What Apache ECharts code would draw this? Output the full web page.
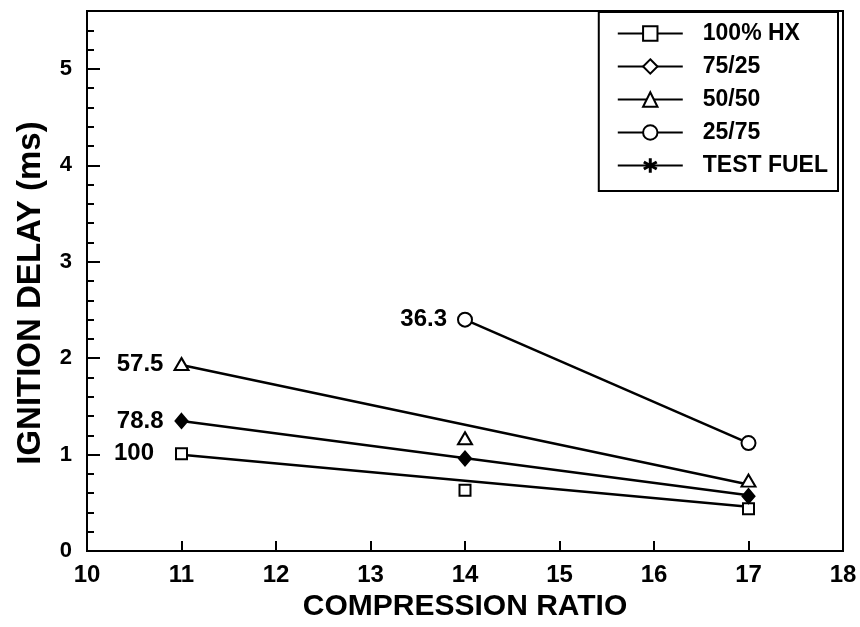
<!DOCTYPE html>
<html>
<head>
<meta charset="utf-8">
<script src="https://cdn.jsdelivr.net/npm/echarts@6/dist/echarts.min.js"></script>
<style>html,body{margin:0;padding:0;background:#fff}#c{width:860px;height:627px}</style>
</head>
<body>
<div id="c"></div>
<script>
// ---- data ----
const seriesNames = ['100% HX', '75/25', '50/50', '25/75', 'TEST FUEL'];
const xTicks = [10, 11, 12, 13, 14, 15, 16, 17, 18];
const yTicks = [0, 1, 2, 3, 4, 5];
const yMax = 5.6;

// measured points [compression ratio, ignition delay ms]
const hxPoints   = [[11, 1.01], [14, 0.63], [17, 0.44]];
const p7525      = [[11, 1.35], [14, 0.96], [17, 0.57]];
const p5050      = [[11, 1.94], [14, 1.17], [17, 0.73]];
const p2575      = [[14, 2.40], [17, 1.12]];
const testFuel   = [];

// fitted straight lines (end points)
const hxFit   = [[11, 1.00], [17, 0.46]];
const fit7525 = [[11, 1.35], [17, 0.58]];
const fit5050 = [[11, 1.93], [17, 0.69]];
const fit2575 = [[14, 2.40], [17, 1.12]];

// annotations (value printed next to first point of each series)
const annoText = ['100', '78.8', '57.5', '36.3'];

const FONT = 'Liberation Sans, Arial, sans-serif';
const asterisk = 'path://M-1,5L1,5L1,-5L-1,-5ZM3.83,3.366L4.83,1.634L-3.83,-3.366L-4.83,-1.634ZM-4.83,1.634L-3.83,3.366L4.83,-1.634L3.83,-3.366Z';

function withLabel(points, text, dist) {
  return points.map((p, i) => i === 0 ? {
    value: p,
    label: { show: true, formatter: text, position: 'left', distance: dist,
             color: '#000', fontFamily: FONT, fontWeight: 'bold', fontSize: 24 }
  } : { value: p });
}

function markerSeries(name, data, symbol, size, fill, bw) {
  return {
    name: name, type: 'line', data: data, symbol: symbol, symbolSize: size,
    showSymbol: true,
    lineStyle: { opacity: 0, width: 0 },
    itemStyle: { color: fill, borderColor: '#000', borderWidth: bw },
    emphasis: { disabled: true }, z: 5, animation: false
  };
}
function fitSeries(data) {
  return {
    type: 'line', data: data, symbol: 'none',
    lineStyle: { color: '#000', width: 2.5 },
    emphasis: { disabled: true }, z: 3, animation: false, silent: true
  };
}

const option = {
  animation: false,
  backgroundColor: '#fff',
  grid: { left: 87, right: 17, top: 11, bottom: 74, show: true,
          borderColor: '#000', borderWidth: 2, backgroundColor: 'transparent' },
  xAxis: {
    type: 'value', min: xTicks[0], max: xTicks[xTicks.length - 1], interval: 1,
    name: 'COMPRESSION RATIO', nameLocation: 'middle', nameGap: 40,
    nameTextStyle: { color: '#000', fontFamily: FONT, fontWeight: 'bold', fontSize: 30 },
    axisLine: { lineStyle: { color: '#000', width: 2 } },
    axisTick: { inside: true, length: 10, lineStyle: { color: '#000', width: 2 } },
    axisLabel: { color: '#000', fontFamily: FONT, fontWeight: 'bold', fontSize: 24, margin: 12 },
    splitLine: { show: false }
  },
  yAxis: [{
    type: 'value', min: yTicks[0], max: yMax, interval: 1,
    name: 'IGNITION DELAY (ms)', nameLocation: 'middle', nameGap: 40,
    nameTextStyle: { color: '#000', fontFamily: FONT, fontWeight: 'bold', fontSize: 33,
                     padding: [0, 24, 0, 0] },
    axisLine: { lineStyle: { color: '#000', width: 2 } },
    axisTick: { inside: true, length: 13, lineStyle: { color: '#000', width: 2 } },
    axisLabel: { color: '#000', fontFamily: FONT, fontWeight: 'bold', fontSize: 22, margin: 15,
                 showMaxLabel: false },
    splitLine: { show: false }
  }, {
    // minor ticks every 0.2
    type: 'value', min: yTicks[0], max: yMax, interval: 0.2, position: 'left',
    axisLine: { show: false },
    axisTick: { inside: true, length: 7, lineStyle: { color: '#000', width: 2 } },
    axisLabel: { show: false }, splitLine: { show: false }
  }],
  legend: {
    orient: 'vertical', right: 22, top: 12,
    padding: [10, 10, 14, 18],
    borderColor: '#000', borderWidth: 2, backgroundColor: '#fff',
    itemWidth: 65, itemHeight: 18, itemGap: 10,
    selectedMode: false,
    textStyle: { color: '#000', fontFamily: FONT, fontWeight: 'bold', fontSize: 23,
                 padding: [0, 0, 0, 15], lineHeight: 23 },
    lineStyle: { color: '#000', width: 2, opacity: 1 },
    data: seriesNames.map(n => ({ name: n, itemStyle: n === 'TEST FUEL'
      ? { color: '#000', borderWidth: 0 }
      : { color: '#fff', borderColor: '#000', borderWidth: 2 } }))
  },
  series: [
    fitSeries(hxFit), fitSeries(fit7525), fitSeries(fit5050), fitSeries(fit2575),
    markerSeries(seriesNames[0], withLabel(hxPoints, annoText[0], 21), 'rect', 11, '#fff', 2),
    markerSeries(seriesNames[1], withLabel(p7525, annoText[1], 11), 'diamond', [12, 14], '#000', 2),
    markerSeries(seriesNames[2], withLabel(p5050, annoText[2], 10), 'triangle', [14, 12], '#fff', 2),
    markerSeries(seriesNames[3], withLabel(p2575, annoText[3], 10), 'circle', 14, '#fff', 2),
    markerSeries(seriesNames[4], testFuel, asterisk, 16, '#000', 0)
  ]
};

const chart = echarts.init(document.getElementById('c'), null, { renderer: 'canvas' });
chart.setOption(option);
</script>
</body>
</html>
